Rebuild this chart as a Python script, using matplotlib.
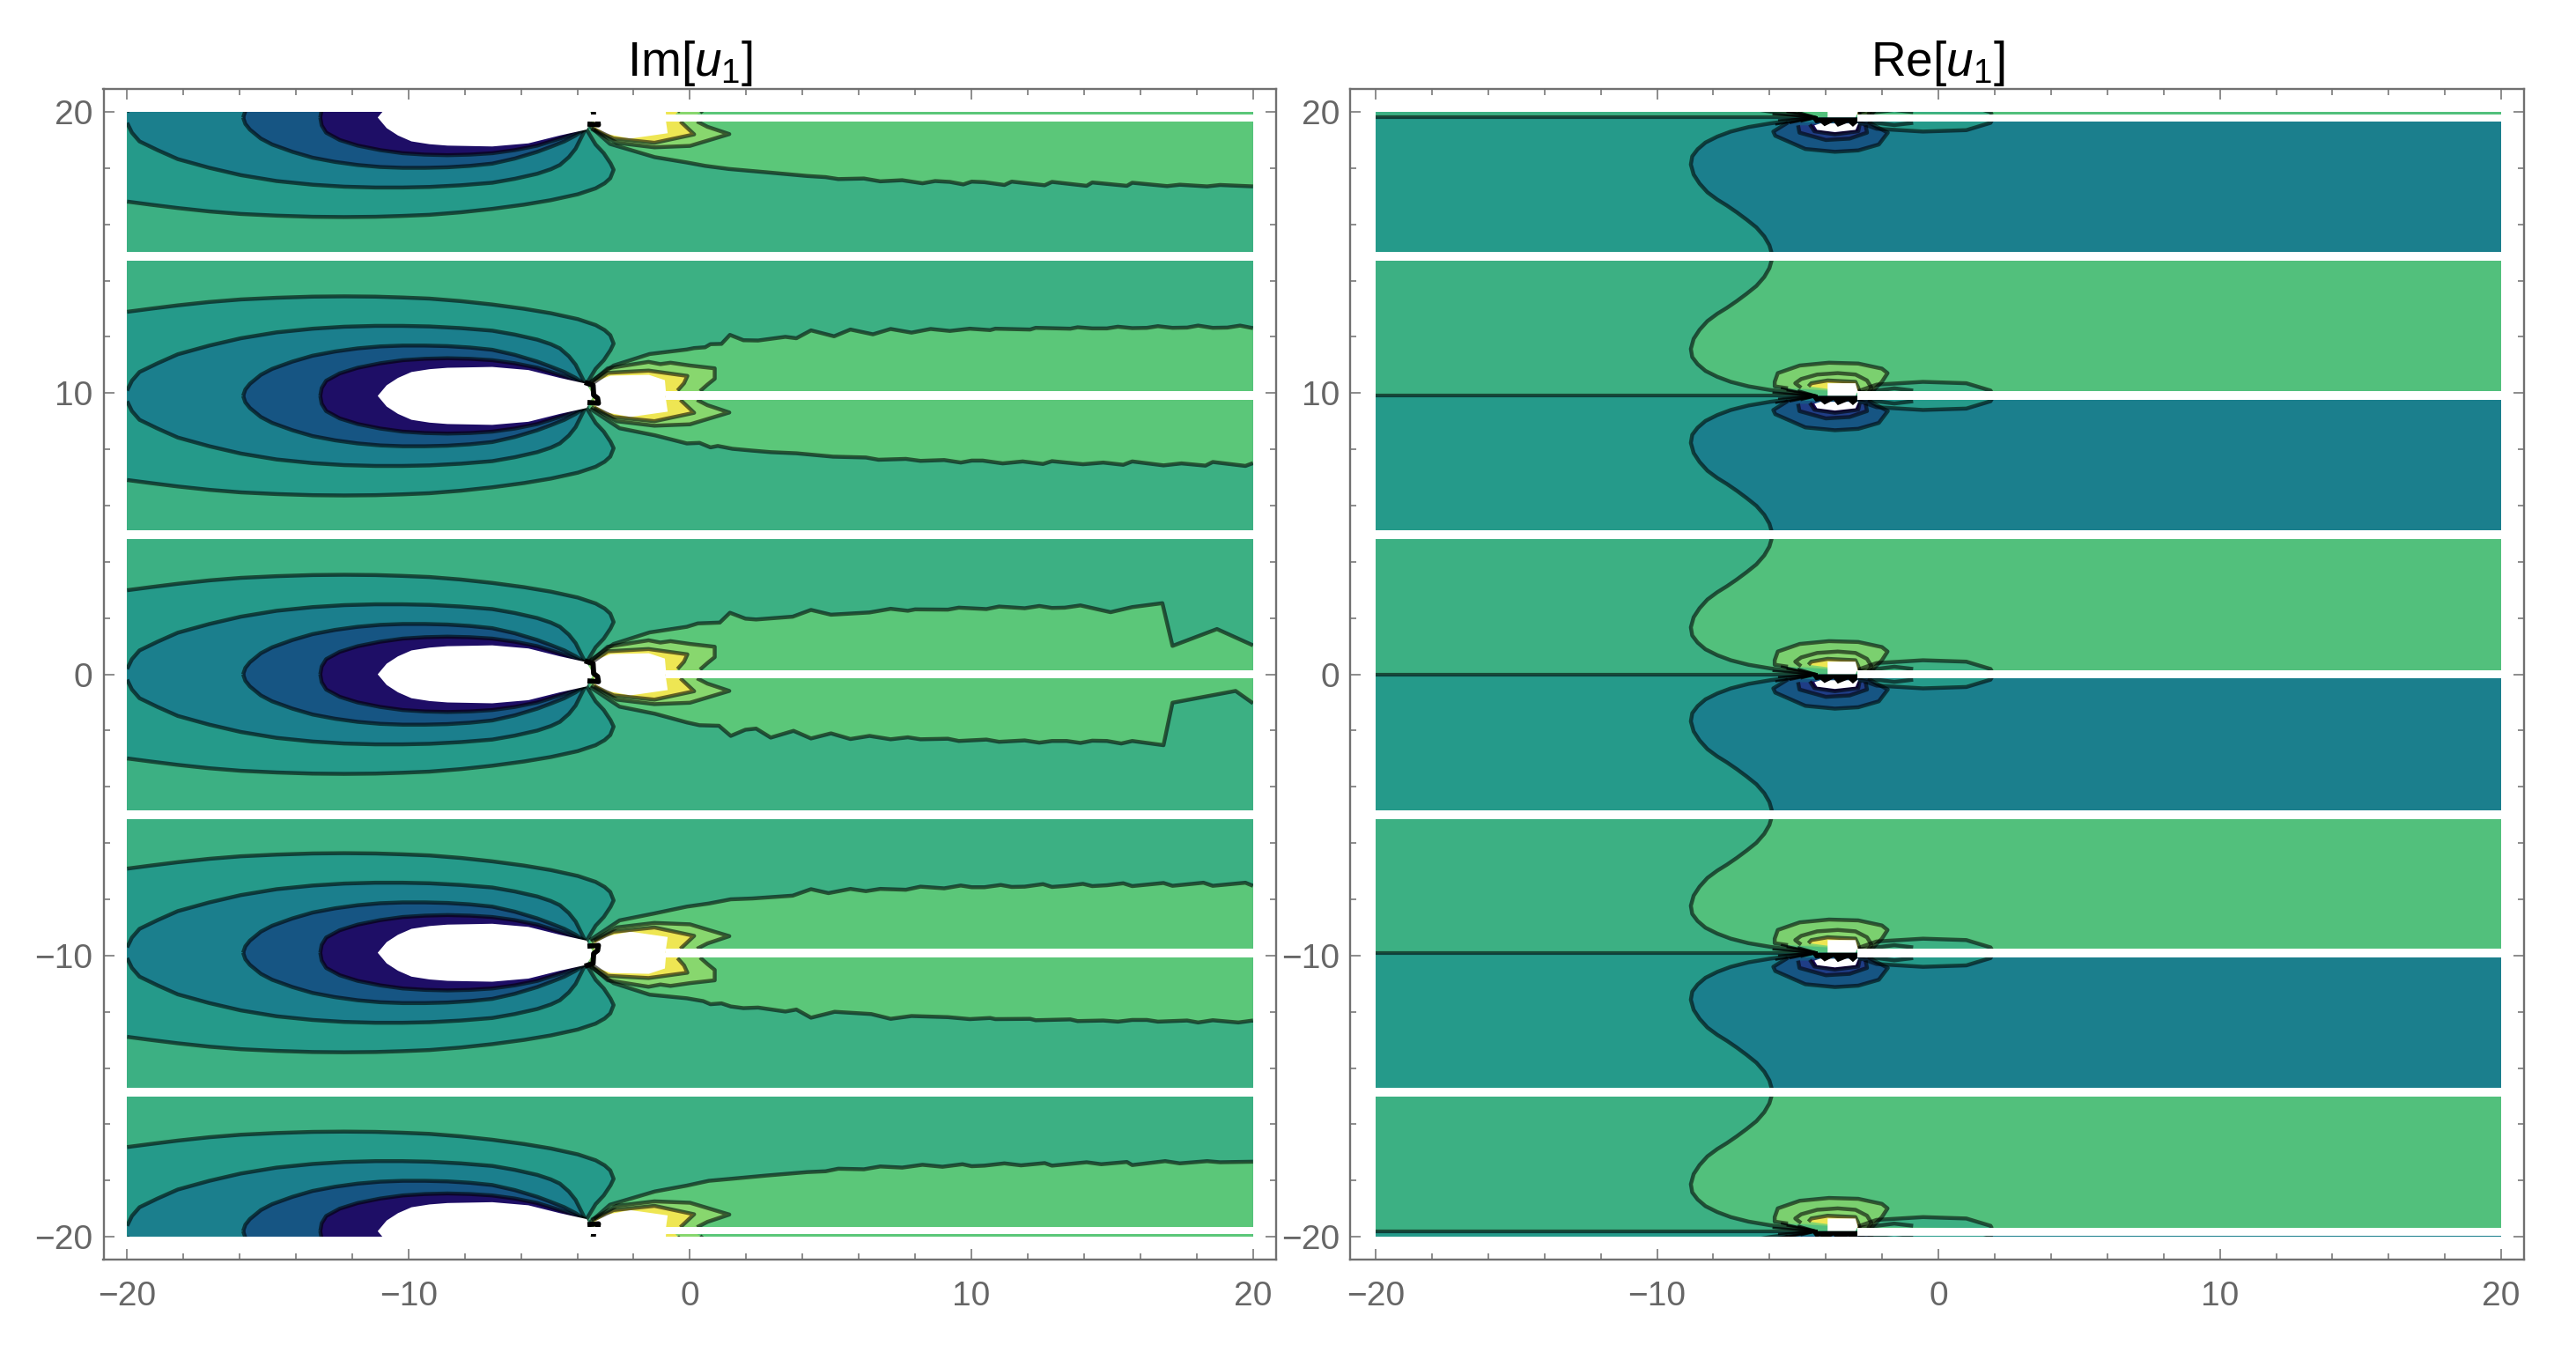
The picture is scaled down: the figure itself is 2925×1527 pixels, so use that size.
import numpy as np
import matplotlib
matplotlib.use("Agg")
import matplotlib.pyplot as plt
from matplotlib.patches import Rectangle

plt.rcParams['font.family'] = ['Liberation Sans', 'DejaVu Sans']
plt.rcParams['mathtext.fontset'] = 'custom'
plt.rcParams['mathtext.rm'] = 'Liberation Sans'
plt.rcParams['mathtext.it'] = 'Liberation Sans:italic'

# ---------- shared ----------
tick_values = [-20, -10, 0, 10, 20]
tick_labels = ['\u221220', '\u221210', '0', '10', '20']
minor_values = [v for v in range(-20, 21, 2) if v % 10]
titles = [r'Im$[u_1]$', r'Re$[u_1]$']
centers = [19.8, 9.9, 0.0, -9.9, -19.8]
full_gaps = [(14.70, 15.02), (4.81, 5.12), (-5.14, -4.84), (-15.02, -14.70)]

BASE = '#3CB083'
TEAL1 = '#259A8A'
TEAL2 = '#1B7F8D'
BLUE = '#165583'
BLUE2 = '#1F3D86'
INDIGO = '#1E0E66'
LIGHT_L = '#5BC779'
LIGHT_R = '#52C07C'
PALE = '#88D76E'
PALE_R = '#7BD06F'
YELLOW = '#EEE653'

# ---------- Im[u1]: contours as (x, half-height above the centre line) ----------
c1_x = [-19.99, -19.15, -18.19, -17.07, -15.95, -14.68, -13.4, -12.28, -11.17, -10.21, -9.25, -8.13, -7.02, -5.9, -4.94, -3.98, -3.35, -3.03, -2.83, -2.71, -2.82, -3.06, -3.35, -3.67]
c1_d = [2.99, 3.1, 3.22, 3.34, 3.43, 3.49, 3.53, 3.54, 3.53, 3.5, 3.46, 3.37, 3.25, 3.1, 2.94, 2.73, 2.52, 2.34, 2.16, 1.86, 1.63, 1.27, 0.96, 0.43]
c2_x = [-19.99, -19.82, -19.55, -18.91, -18.19, -17.07, -15.95, -14.68, -13.4, -12.28, -11.17, -10.21, -9.25, -8.13, -7.02, -6.22, -5.42, -4.94, -4.62, -4.3, -4.06, -3.75]
c2_d = [0.19, 0.54, 0.85, 1.16, 1.48, 1.79, 2.05, 2.26, 2.39, 2.46, 2.49, 2.49, 2.47, 2.41, 2.32, 2.18, 2.0, 1.84, 1.69, 1.41, 1.11, 0.49]
c3_x = [-15.87, -15.79, -15.63, -15.24, -14.84, -14.12, -13.4, -12.6, -11.8, -11.0, -10.2, -9.41, -8.61, -7.81, -7.02, -6.22, -5.42, -4.94, -4.46, -4.06, -3.75]
c3_d = [0.0, 0.23, 0.43, 0.75, 0.96, 1.22, 1.43, 1.58, 1.69, 1.76, 1.79, 1.79, 1.77, 1.72, 1.64, 1.46, 1.22, 1.04, 0.85, 0.64, 0.43]
c4_x = [-13.13, -13.08, -12.92, -12.44, -11.8, -11.0, -10.2, -9.41, -8.61, -7.81, -7.02, -6.22, -5.42, -4.46, -3.75]
c4_d = [0.0, 0.28, 0.54, 0.8, 1.0, 1.16, 1.27, 1.32, 1.34, 1.32, 1.27, 1.16, 1.0, 0.7, 0.43]
hole_x = [-11.09, -10.77, -10.37, -9.89, -9.25, -8.61, -7.02, -5.74, -4.62, -3.67, -3.43]
hole_d = [0.0, 0.38, 0.64, 0.85, 0.95, 1.0, 1.03, 0.92, 0.64, 0.43, 0.0]
jag_x = [-3.65, -3.44, -3.42, -3.28, -3.25, -3.55]
jag_d = [0.45, 0.38, 0.03, -0.08, -0.26, -0.24]

square_x = [-3.6, -2.92, -1.47, -1.05, -0.69, 0.0, 0.88, 0.88, 0.62, 0.36, 0.1]
square_d = [0.4, 0.98, 1.21, 1.13, 1.18, 1.08, 0.98, 0.61, 0.40, 0.17, 0.0]
point_x = [-3.5, -2.6, -1.26, 0.0, 1.4, 0.62, 0.25, 0.0]
point_d = [0.4, 0.9, 1.06, 1.01, 0.59, 0.33, 0.14, 0.0]
yellow_hi_x = [-3.45, -2.92, -1.47, -0.09, -0.21, -0.44, -0.6]
yellow_hi_d = [0.45, 0.82, 0.90, 0.71, 0.45, 0.19, 0.0]
yellow_lo_x = [-3.4, -2.71, -1.26, 0.15, -0.34, -0.5]
yellow_lo_d = [0.42, 0.75, 0.90, 0.60, 0.14, 0.0]
lobe_hole_hi_x = [-3.39, -2.82, -1.46, -0.89, -0.84]
lobe_hole_hi_d = [0.5, 0.72, 0.75, 0.56, 0.0]
lobe_hole_lo_x = [-3.39, -2.95, -2.12, -0.79, -0.87]
lobe_hole_lo_d = [0.33, 0.59, 0.75, 0.56, 0.0]

# boundary of the light green area, band by band
b_20lo_x = [-3.55, -2.84, -1.25, -0.11, 0.54, 1.38, 2.74, 4.17, 4.82, 5.27, 6.18, 6.76, 7.54, 8.26, 8.71, 9.23, 9.71, 10.01, 10.46, 11.17, 11.43, 12.6, 12.86, 14.09, 14.29, 15.52, 15.71, 16.95, 17.4, 18.37, 18.83, 20.0]
b_20lo_y = [19.49, 18.86, 18.39, 18.2, 18.08, 17.97, 17.85, 17.72, 17.68, 17.61, 17.63, 17.53, 17.57, 17.46, 17.54, 17.51, 17.42, 17.52, 17.5, 17.4, 17.52, 17.39, 17.51, 17.37, 17.49, 17.37, 17.48, 17.36, 17.41, 17.35, 17.4, 17.35]
b_10hi_x = [-3.6, -2.71, -1.43, -0.11, 0.15, 0.54, 0.73, 1.12, 1.42, 1.9, 2.42, 3.39, 3.78, 4.3, 5.12, 5.7, 6.5, 7.13, 7.87, 8.55, 9.23, 9.94, 10.66, 10.85, 12.08, 12.28, 13.51, 13.77, 14.29, 14.81, 15.2, 15.71, 16.23, 16.62, 17.14, 17.66, 18.05, 18.57, 19.09, 19.54, 20.0]
b_10hi_y = [10.35, 10.98, 11.39, 11.55, 11.6, 11.63, 11.74, 11.75, 12.07, 11.88, 11.87, 12.0, 11.95, 12.23, 12.02, 12.26, 12.09, 12.28, 12.15, 12.28, 12.21, 12.29, 12.24, 12.29, 12.26, 12.32, 12.29, 12.34, 12.3, 12.3, 12.36, 12.31, 12.32, 12.38, 12.32, 12.33, 12.4, 12.32, 12.33, 12.4, 12.31]
b_10lo_x = [-3.55, -2.5, -1.25, -0.11, 0.34, 0.73, 0.99, 1.51, 2.16, 2.87, 3.78, 5.08, 6.25, 6.7, 7.67, 8.19, 9.03, 9.62, 10.01, 10.4, 11.11, 11.82, 12.54, 12.86, 13.96, 14.68, 15.39, 15.71, 16.82, 17.46, 18.31, 18.57, 19.73, 20.0]
b_10lo_y = [9.45, 8.75, 8.5, 8.21, 8.23, 8.07, 8.12, 8.02, 7.96, 7.9, 7.86, 7.74, 7.71, 7.63, 7.66, 7.59, 7.62, 7.53, 7.6, 7.6, 7.5, 7.57, 7.48, 7.58, 7.47, 7.53, 7.45, 7.57, 7.43, 7.5, 7.42, 7.55, 7.41, 7.51]
b_0hi_x = [-3.6, -2.71, -1.43, -0.11, 0.28, 1.06, 1.42, 1.97, 2.35, 3.65, 4.3, 5.01, 6.38, 7.13, 7.74, 8.0, 9.16, 9.55, 10.53, 10.98, 11.89, 12.41, 12.86, 13.31, 13.87, 14.94, 15.71, 16.78, 17.14, 18.72, 20.0]
b_0hi_y = [0.45, 1.08, 1.49, 1.69, 1.81, 1.84, 2.19, 1.98, 1.95, 2.05, 2.29, 2.12, 2.2, 2.33, 2.26, 2.31, 2.3, 2.37, 2.32, 2.41, 2.35, 2.43, 2.36, 2.37, 2.45, 2.21, 2.39, 2.53, 1.01, 1.61, 1.03]
b_0lo_x = [-3.55, -2.5, -1.25, -0.11, 0.34, 1.03, 1.45, 1.97, 2.35, 2.87, 3.68, 4.3, 5.01, 5.7, 6.38, 7.13, 7.74, 8.19, 9.16, 9.55, 10.53, 10.98, 11.89, 12.41, 12.86, 13.38, 13.87, 14.29, 14.81, 15.32, 15.71, 16.82, 17.14, 19.38, 20.0]
b_0lo_y = [-0.45, -1.15, -1.4, -1.71, -1.81, -1.83, -2.19, -1.97, -1.93, -2.25, -2.01, -2.28, -2.1, -2.3, -2.19, -2.31, -2.24, -2.31, -2.29, -2.37, -2.32, -2.4, -2.35, -2.43, -2.37, -2.37, -2.44, -2.36, -2.37, -2.46, -2.37, -2.52, -1.01, -0.59, -1.03]
b_m10hi_x = [-3.55, -2.5, -1.25, -0.11, 0.67, 1.45, 2.22, 3.65, 4.3, 4.92, 5.7, 6.25, 6.76, 7.67, 8.19, 9.03, 9.62, 10.01, 10.46, 11.04, 11.43, 11.89, 12.54, 12.86, 13.38, 13.96, 14.29, 14.81, 15.39, 15.71, 16.82, 17.14, 18.24, 18.57, 19.73, 20.0]
b_m10hi_y = [-9.45, -8.75, -8.5, -8.26, -8.15, -8.0, -7.97, -7.87, -7.64, -7.78, -7.63, -7.71, -7.63, -7.66, -7.55, -7.61, -7.51, -7.57, -7.57, -7.49, -7.56, -7.55, -7.46, -7.56, -7.52, -7.45, -7.53, -7.5, -7.43, -7.53, -7.42, -7.52, -7.41, -7.52, -7.41, -7.52]
b_m10lo_x = [-3.6, -2.71, -1.43, -0.11, 0.47, 0.73, 1.12, 1.45, 1.9, 2.42, 3.39, 3.78, 4.3, 5.14, 6.44, 7.13, 7.87, 9.16, 9.94, 10.66, 10.85, 12.08, 12.28, 13.51, 13.77, 14.68, 15.2, 15.71, 16.23, 16.62, 17.66, 18.05, 18.57, 19.48, 20.0]
b_m10lo_y = [-10.35, -10.98, -11.39, -11.52, -11.62, -11.73, -11.70, -11.81, -11.87, -11.85, -11.99, -11.92, -12.21, -12.0, -12.08, -12.25, -12.15, -12.19, -12.26, -12.22, -12.26, -12.25, -12.30, -12.27, -12.33, -12.31, -12.35, -12.29, -12.29, -12.35, -12.31, -12.38, -12.30, -12.38, -12.31]
b_m20hi_x = [-3.55, -2.84, -1.25, -0.11, 0.67, 1.45, 2.74, 4.17, 4.82, 5.27, 6.18, 6.76, 7.54, 8.26, 8.97, 9.68, 10.01, 10.46, 11.17, 11.76, 12.6, 12.86, 14.09, 14.61, 15.52, 15.71, 16.88, 17.4, 18.37, 18.83, 20.0]
b_m20hi_y = [-19.49, -18.86, -18.39, -18.18, -18.01, -17.94, -17.82, -17.7, -17.67, -17.58, -17.6, -17.5, -17.54, -17.44, -17.51, -17.42, -17.49, -17.47, -17.39, -17.46, -17.38, -17.47, -17.35, -17.42, -17.34, -17.45, -17.31, -17.39, -17.31, -17.35, -17.33]

cut_lo = [19.65, 9.76, -0.14, -10.06, -19.90]
cut_hi = [19.90, 10.07, 0.14, -9.76, -19.65]
cut_start = [-3.8, -0.87, -0.87, -0.87, -3.8]

# ---------- Re[u1] ----------
s_x = [-4.5, -5.0, -5.28, -5.98, -6.75, -7.38, -7.86, -8.28, -8.56, -8.75, -8.8, -8.7, -8.49, -8.21, -7.86, -7.52, -7.17, -6.82, -6.47, -6.19, -6.01, -5.94, -5.9]
s_d = [0.0, 0.08, 0.12, 0.21, 0.34, 0.5, 0.68, 0.89, 1.13, 1.38, 1.67, 2.03, 2.35, 2.66, 2.92, 3.13, 3.37, 3.63, 3.91, 4.23, 4.54, 4.78, 4.95]
up1_x = [-5.35, -5.82, -5.82, -5.71, -4.93, -3.89, -2.85, -2.01, -1.81, -2.01, -2.22, -2.4]
up1_d = [0.27, 0.34, 0.5, 0.81, 1.08, 1.18, 1.15, 0.97, 0.81, 0.5, 0.29, 0.1]
up2_x = [-4.88, -5.09, -4.88, -4.31, -3.58, -2.95, -2.54, -2.38, -2.5]
up2_d = [0.29, 0.45, 0.6, 0.76, 0.81, 0.76, 0.55, 0.29, 0.1]
up3_x = [-4.62, -4.52, -3.94, -2.95, -2.85, -2.8]
up3_d = [0.34, 0.45, 0.55, 0.5, 0.29, 0.1]
up_hole_x = [-3.94, -2.95, -2.87, -2.95, -3.94]
up_hole_d = [0.45, 0.45, 0.17, 0.0, 0.0]
dn1_x = [-5.35, -5.87, -5.8, -4.73, -3.68, -2.85, -2.12, -1.8, -2.2, -2.5]
dn1_d = [0.18, 0.5, 0.65, 1.12, 1.22, 1.17, 0.96, 0.54, 0.33, 0.15]
dn2_x = [-4.99, -4.94, -4.0, -3.16, -2.54, -2.59]
dn2_d = [0.28, 0.54, 0.8, 0.75, 0.54, 0.28]
dn3_x = [-4.57, -4.41, -3.68, -2.85, -2.8]
dn3_d = [0.25, 0.49, 0.6, 0.49, 0.25]
dn_hole_x = [-4.41, -4.2, -2.85, -2.95, -3.68, -4.31]
dn_hole_d = [0.28, 0.21, 0.21, 0.44, 0.52, 0.44]
teeth_x = [-4.52, -2.85, -2.87, -3.04, -3.21, -3.58, -3.73, -4.05, -4.2, -4.36]
teeth_d = [0.0, 0.0, -0.18, -0.33, -0.18, -0.33, -0.15, -0.31, -0.18, -0.21]
loop_x = [-2.85, -2.2, -0.55, 0.99, 1.85, 1.9]
loop_d = [0.17, 0.4, 0.5, 0.45, 0.19, 0.1]
inner_x = [-2.85, -2.2, -1.57, -0.9]
inner_d = [0.12, 0.19, 0.27, 0.19]
spike_x = [-5.9, -5.6, -5.4, -5.0, -5.7, -5.3, -5.8, -4.9]
spike_d = [0.12, 0.28, 0.2, 0.2, -0.1, -0.2, -0.25, -0.15]
re_cut_lo = [19.67, 9.76, -0.14, -10.07, -19.96]
re_cut_hi = [19.90, 10.07, 0.14, -9.76, -19.67]
re_cut_start = -2.87

LW = 1.6
LINE = dict(color='black', alpha=0.58, lw=LW, solid_joinstyle='round', solid_capstyle='butt')

fig = plt.figure(figsize=(14.625, 7.635), dpi=200)
W, H = 2925, 1527


def make_axes(l, r, t, b, xlim, ylim, title, title_x):
    ax = fig.add_axes([l / W, 1 - b / H, (r - l) / W, (b - t) / H])
    ax.set_xlim(*xlim)
    ax.set_ylim(*ylim)
    ax.set_xticks(tick_values, tick_labels)
    ax.set_yticks(tick_values, tick_labels)
    ax.set_xticks(minor_values, minor=True)
    ax.set_yticks(minor_values, minor=True)
    ax.tick_params(which='major', direction='in', top=True, right=True, length=4.3, width=0.55,
                   color='#6E6E6E', labelcolor='#666666', labelsize=14)
    ax.tick_params(which='minor', direction='in', top=True, right=True, length=2.5, width=0.55, color='#6E6E6E')
    ax.tick_params(axis='x', which='major', pad=8.5)
    ax.tick_params(axis='y', which='major', pad=4.3)
    for s in ax.spines.values():
        s.set_color('#707070')
        s.set_linewidth(0.85)
    fig.text(title_x / W, 1 - 86 / H, title, fontsize=19.8, ha='center', va='baseline', color='black')
    return ax


def clipper(ax):
    return Rectangle((-20, -20), 40, 40, transform=ax.transData)


def area(ax, x, y, color):
    p, = ax.fill(x, y, color=color, lw=0, zorder=2)
    p.set_clip_path(clipper(ax))


def line(ax, x, y, **kw):
    style = dict(LINE)
    style.update(kw)
    l, = ax.plot(x, y, zorder=3, **style)
    l.set_clip_path(clipper(ax))


def lens_xy(hx, hd, lx, ld, c, flip=1):
    hx, hd, lx, ld = map(np.asarray, (hx, hd, lx, ld))
    return np.r_[hx, lx[::-1]], c + flip * np.r_[hd, -ld[::-1]]


# ---------- left panel ----------
axL = make_axes(117.5, 1449, 100.5, 1430, (-20.83, 20.82), (-20.81, 20.83), titles[0], 783.5)
area(axL, [-20, 20, 20, -20], [-20, -20, 20, 20], BASE)

boundaries = [
    (b_20lo_x, b_20lo_y, [20, -3.6], [20.1, 20.1], None, None),
    (b_10hi_x, b_10hi_y, None, None, b_10lo_x, b_10lo_y),
    (b_0hi_x, b_0hi_y, None, None, b_0lo_x, b_0lo_y),
    (b_m10hi_x, b_m10hi_y, None, None, b_m10lo_x, b_m10lo_y),
    (b_m20hi_x, b_m20hi_y, [20, -3.6], [-20.1, -20.1], None, None),
]
for c, (ax1, ay1, cx, cy, bx, by) in zip(centers, boundaries):
    if bx is None:
        area(axL, list(ax1) + cx, list(ay1) + cy, LIGHT_L)
        line(axL, ax1, ay1)
    else:
        area(axL, list(ax1) + list(bx)[::-1], list(ay1) + list(by)[::-1], LIGHT_L)
        line(axL, ax1, ay1)
        line(axL, bx, by)

for i, c in enumerate(centers):
    flip = 1 if c >= 0 else -1
    for (xs, ds, col) in [(c1_x, c1_d, TEAL1), (c2_x, c2_d, TEAL2), (c3_x, c3_d, BLUE), (c4_x, c4_d, INDIGO)]:
        px, py = lens_xy(xs, ds, xs, ds, c)
        area(axL, px, py, col)
        line(axL, px, py)
    # right-hand lobes
    px, py = lens_xy(square_x, square_d, point_x, point_d, c, flip)
    area(axL, px, py, PALE)
    line(axL, square_x[:-1], c + flip * np.asarray(square_d[:-1]))
    line(axL, point_x[:-1], c - flip * np.asarray(point_d[:-1]))
    px, py = lens_xy(yellow_hi_x, yellow_hi_d, yellow_lo_x, yellow_lo_d, c, flip)
    area(axL, px, py, YELLOW)
    line(axL, yellow_hi_x[:-1], c + flip * np.asarray(yellow_hi_d[:-1]))
    line(axL, yellow_lo_x[:-1], c - flip * np.asarray(yellow_lo_d[:-1]))
    px, py = lens_xy(lobe_hole_hi_x, lobe_hole_hi_d, lobe_hole_lo_x, lobe_hole_lo_d, c, flip)
    area(axL, px, py, 'white')
    px, py = lens_xy(hole_x, hole_d, hole_x, hole_d, c)
    p, = axL.fill(px, py, color='white', lw=0, zorder=4)
    p.set_clip_path(clipper(axL))
    l, = axL.plot(jag_x, c + flip * np.asarray(jag_d), color='black', lw=2.1, zorder=5)
    l.set_clip_path(clipper(axL))
    r = Rectangle((cut_start[i], cut_lo[i]), 20 - cut_start[i], cut_hi[i] - cut_lo[i], color='white', lw=0, zorder=6)
    axL.add_patch(r)
for lo, hi in full_gaps:
    axL.add_patch(Rectangle((-20, lo), 40, hi - lo, color='white', lw=0, zorder=6))

# ---------- right panel ----------
axR = make_axes(1533, 2866, 100.5, 1430, (-20.91, 20.81), (-20.81, 20.83), titles[1], 2200)
sx, sd = np.asarray(s_x), np.asarray(s_d)
for i, c in enumerate(centers):
    area(axR, [-20, 20, 20, -20], [c, c, c + 4.95, c + 4.95], BASE)
    area(axR, [-20, 20, 20, -20], [c, c, c - 4.95, c - 4.95], TEAL1)
    area(axR, list(sx) + [20, 20], list(c + sd) + [c + 4.95, c], LIGHT_R)
    area(axR, list(sx) + [20, 20], list(c - sd) + [c - 4.95, c], TEAL2)
for i, c in enumerate(centers):
    line(axR, sx, c + sd)
    line(axR, sx, c - sd)
    line(axR, [-20, -4.5], [c, c], lw=1.5)
    # loops either side of the cut
    lx, ld = np.asarray(loop_x), np.asarray(loop_d)
    area(axR, lx, c + ld, BASE)
    area(axR, lx, c - ld, TEAL1)
    line(axR, lx, c + ld)
    line(axR, lx, c - ld)
    nx, nd = np.asarray(inner_x), np.asarray(inner_d)
    line(axR, nx, c + nd)
    line(axR, nx, c - nd)
    # lobes above
    for xs, ds, col in [(up1_x, up1_d, PALE_R), (up2_x, up2_d, PALE), (up3_x, up3_d, YELLOW)]:
        xa, da = np.asarray(xs), np.asarray(ds)
        area(axR, xa, c + da, col)
        line(axR, xa, c + da)
    # lobes below
    for xs, ds, col in [(dn1_x, dn1_d, BLUE), (dn2_x, dn2_d, BLUE2), (dn3_x, dn3_d, INDIGO)]:
        xa, da = np.asarray(xs), np.asarray(ds)
        area(axR, xa, c - da, col)
        line(axR, xa, c - da)
    for sxe, sde in zip(spike_x, spike_d):
        line(axR, [-4.3, sxe], [c, c + sde], lw=0.9, alpha=0.75)
    for xs, ds, sgn in [(up_hole_x, up_hole_d, 1), (dn_hole_x, dn_hole_d, -1)]:
        p, = axR.fill(xs, c + sgn * np.asarray(ds), color='white', lw=0, zorder=4)
        p.set_clip_path(clipper(axR))
    p, = axR.fill(teeth_x, c + np.asarray(teeth_d), color='black', lw=0, zorder=5)
    p.set_clip_path(clipper(axR))
    axR.add_patch(Rectangle((re_cut_start, re_cut_lo[i]), 20 - re_cut_start, re_cut_hi[i] - re_cut_lo[i],
                            color='white', lw=0, zorder=6))
for lo, hi in full_gaps:
    axR.add_patch(Rectangle((-20, lo), 40, hi - lo, color='white', lw=0, zorder=6))

fig.savefig('out.png', dpi=200)
